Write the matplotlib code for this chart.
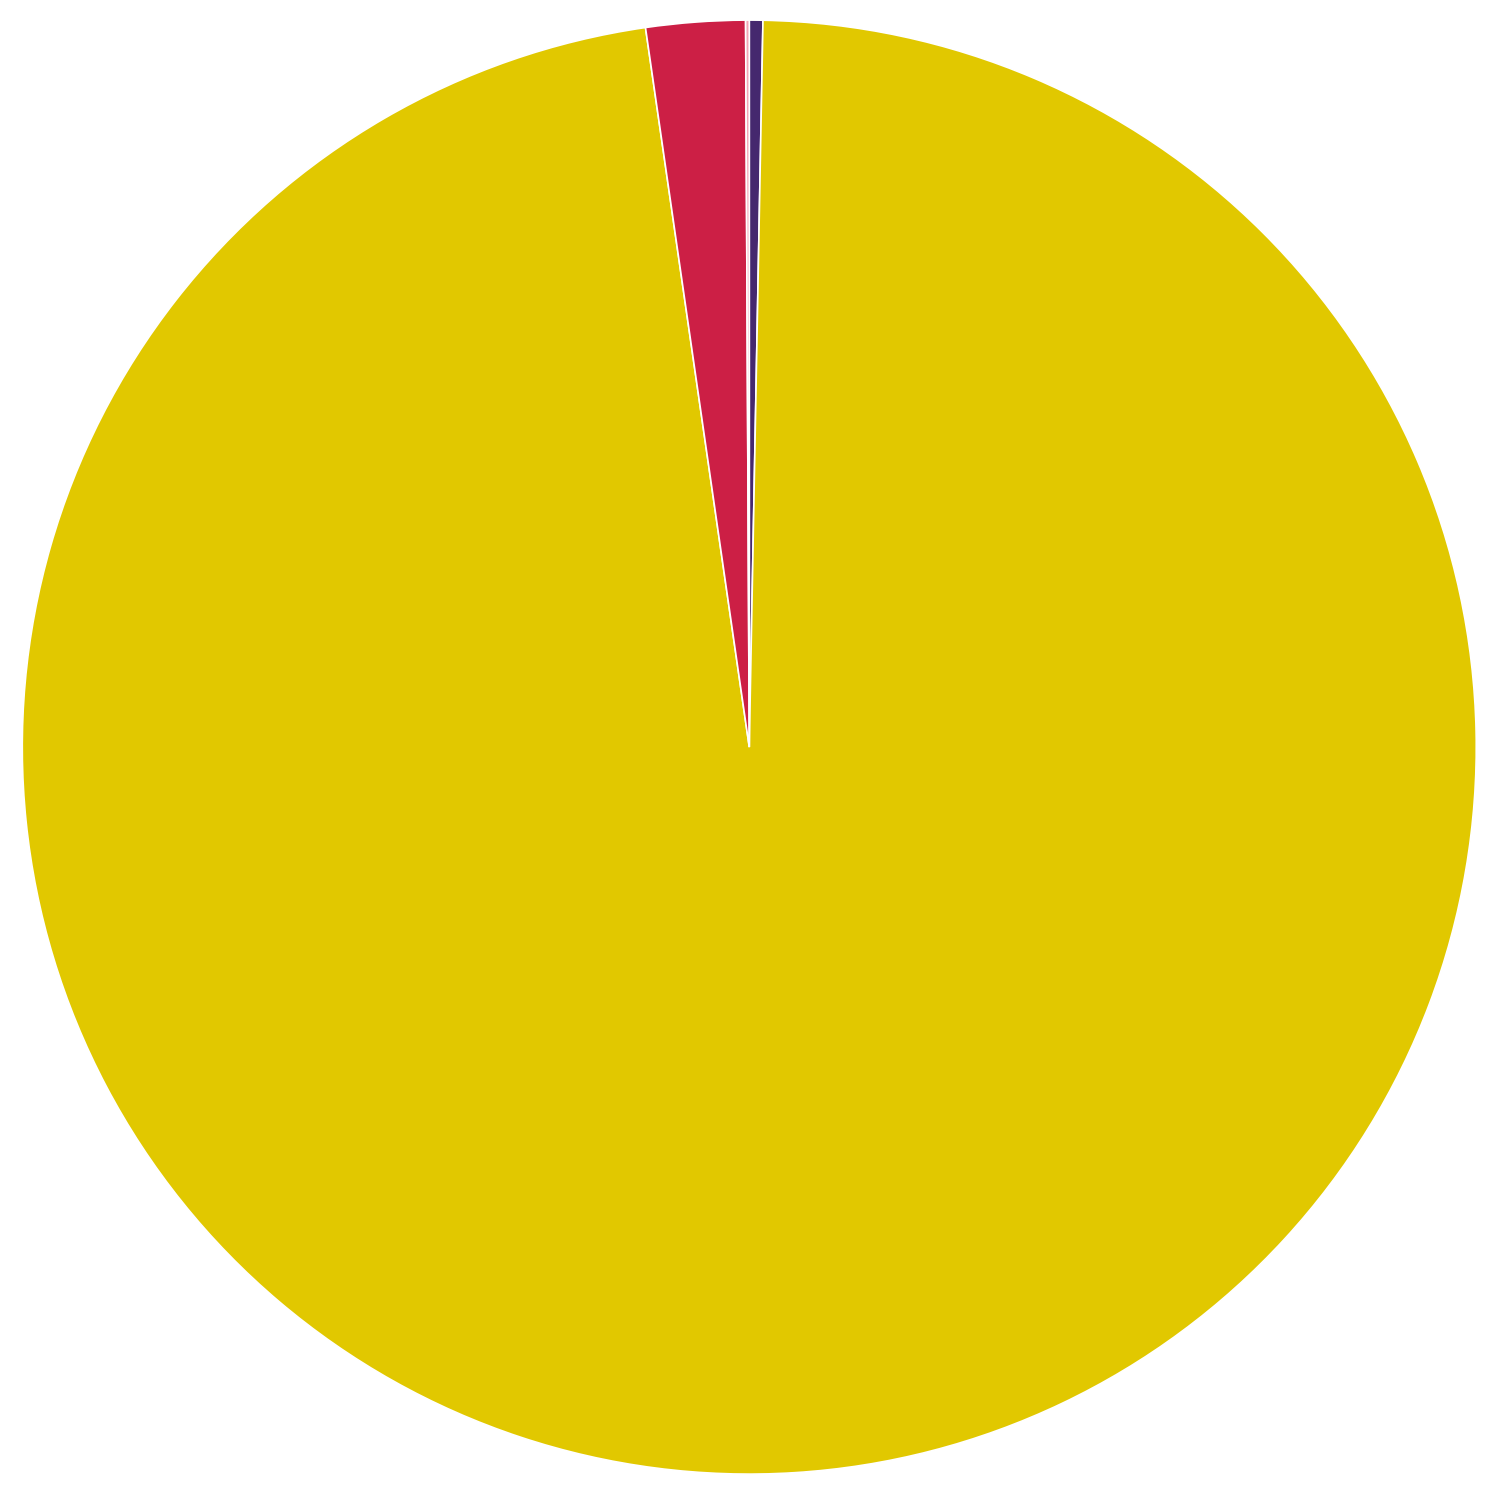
import matplotlib
matplotlib.use("Agg")
import matplotlib.pyplot as plt

# slices, clockwise from 12 o'clock
labels = ["Navy", "Yellow", "Red", "Pink"]
shares = [0.30, 97.42, 2.20, 0.08]
colors = ["#45286E", "#E1C800", "#CC1F45", "#F2A6B6"]

fig = plt.figure(figsize=(10, 10), dpi=150)
ax = fig.add_axes([0, 0, 1, 1])
ax.pie(shares, colors=colors, startangle=90, counterclock=False,
       wedgeprops=dict(edgecolor="white", linewidth=0.8))
ax.set_aspect("equal")
half = 750 / 727
ax.set_xlim(-half + 0.001, half + 0.001)
ax.set_ylim(-half - 0.004, half - 0.004)
ax.axis("off")
fig.savefig("out.png", dpi=150, facecolor="white")
